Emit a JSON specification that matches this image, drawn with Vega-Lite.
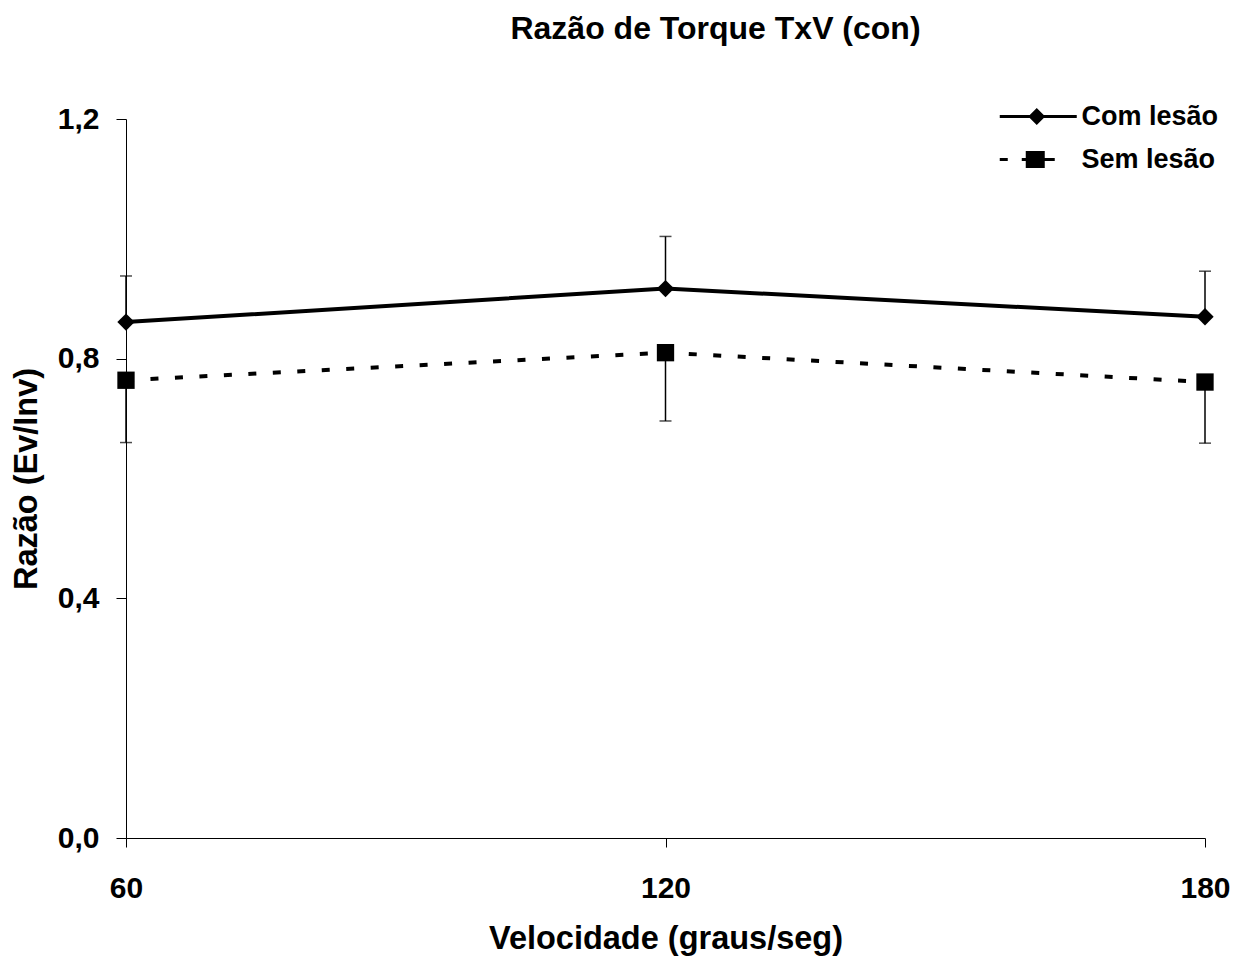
{
  "$schema": "https://vega.github.io/schema/vega-lite/v6.json",
  "width": 1079,
  "height": 719,
  "autosize": {"type": "none"},
  "padding": {"left": 126, "top": 119, "right": 39, "bottom": 118},
  "background": "white",
  "config": {
    "view": {"stroke": null},
    "font": "Liberation Sans",
    "axis": {"grid": false, "domainColor": "black", "domainWidth": 1, "tickColor": "black", "tickWidth": 1, "labelColor": "black", "titleColor": "black", "labelFont": "Liberation Sans", "titleFont": "Liberation Sans", "labelFontWeight": "bold", "titleFontWeight": "bold"}
  },
  "title": {"text": "Razão de Torque TxV (con)", "font": "Liberation Sans", "fontSize": 32, "fontWeight": "bold", "color": "black", "anchor": "middle", "frame": "group", "offset": 57, "dx": 50},
  "data": {"values": [
    {"serie": "Com lesão", "velocidade": 60, "razao": 0.861, "barra": 0.938},
    {"serie": "Com lesão", "velocidade": 120, "razao": 0.917, "barra": 1.004},
    {"serie": "Com lesão", "velocidade": 180, "razao": 0.870, "barra": 0.946},
    {"serie": "Sem lesão", "velocidade": 60, "razao": 0.764, "barra": 0.660},
    {"serie": "Sem lesão", "velocidade": 120, "razao": 0.810, "barra": 0.696},
    {"serie": "Sem lesão", "velocidade": 180, "razao": 0.761, "barra": 0.659}
  ]},
  "encoding": {
    "x": {"field": "velocidade", "type": "quantitative", "scale": {"domain": [60, 180], "nice": false, "zero": false},
      "axis": {"values": [60, 120, 180], "title": "Velocidade (graus/seg)", "labelFontSize": 30, "titleFontSize": 32.5, "tickSize": 9, "labelPadding": 26, "titlePadding": 19, "labelFlush": false}},
    "y": {"field": "razao", "type": "quantitative", "scale": {"domain": [0, 1.2], "nice": false},
      "axis": {"values": [0, 0.4, 0.8, 1.2], "labelExpr": "replace(format(datum.value, '.1f'), '.', ',')", "title": "Razão (Ev/Inv)", "labelFontSize": 30, "titleFontSize": 32.5, "tickSize": 10, "labelPadding": 17, "titlePadding": 14}}
  },
  "layer": [
    {"mark": {"type": "rule", "color": "black", "strokeWidth": 1.5},
      "encoding": {"y2": {"field": "barra"}}},
    {"mark": {"type": "tick", "orient": "horizontal", "color": "black", "size": 12, "thickness": 1.5},
      "encoding": {"y": {"field": "barra", "type": "quantitative"}}},
    {"transform": [{"filter": "datum.serie === 'Com lesão'"}],
      "mark": {"type": "line", "color": "black", "strokeWidth": 4, "strokeCap": "butt"},
      "encoding": {}},
    {"transform": [{"filter": "datum.serie === 'Sem lesão'"}],
      "mark": {"type": "line", "color": "black", "strokeWidth": 4, "strokeCap": "butt", "strokeDash": [8, 16.5]},
      "encoding": {}},
    {"transform": [{"filter": "datum.serie === 'Com lesão'"}],
      "mark": {"type": "point", "filled": true, "color": "black", "shape": "diamond", "size": 300, "opacity": 1},
      "encoding": {}},
    {"transform": [{"filter": "datum.serie === 'Sem lesão'"}],
      "mark": {"type": "point", "filled": true, "color": "black", "shape": "square", "size": 300, "opacity": 1},
      "encoding": {}},
    {"mark": {"type": "point", "filled": true, "color": "black", "stroke": "black", "strokeWidth": 3.5, "size": 400, "opacity": 0},
      "encoding": {"shape": {"field": "serie", "type": "nominal", "scale": {"domain": ["Com lesão", "Sem lesão"], "range": ["M-6.625,-0.16L1.075,-0.16L1.075,0.16L-6.625,0.16ZM-3.775,0L-2.925,-0.85L-2.075,0L-2.925,0.85Z", "M-6.625,-0.16L-5.825,-0.16L-5.825,0.16L-6.625,0.16ZM-4.425,-0.16L-4.025,-0.16L-4.025,0.16L-4.425,0.16ZM-4.025,-0.85L-2.125,-0.85L-2.125,0.85L-4.025,0.85ZM-2.125,-0.16L-1.125,-0.16L-1.125,0.16L-2.125,0.16Z"]},
        "legend": {"title": null, "orient": "none", "legendX": 926.5, "legendY": -16, "padding": 0, "labelFont": "Liberation Sans", "labelFontSize": 27, "labelFontWeight": "bold", "labelColor": "black", "labelOffset": 2, "rowPadding": 12, "symbolSize": 400, "symbolStrokeWidth": 3.5, "symbolOpacity": 1, "symbolFillColor": "black", "symbolStrokeColor": "black"}}}}
  ]
}
